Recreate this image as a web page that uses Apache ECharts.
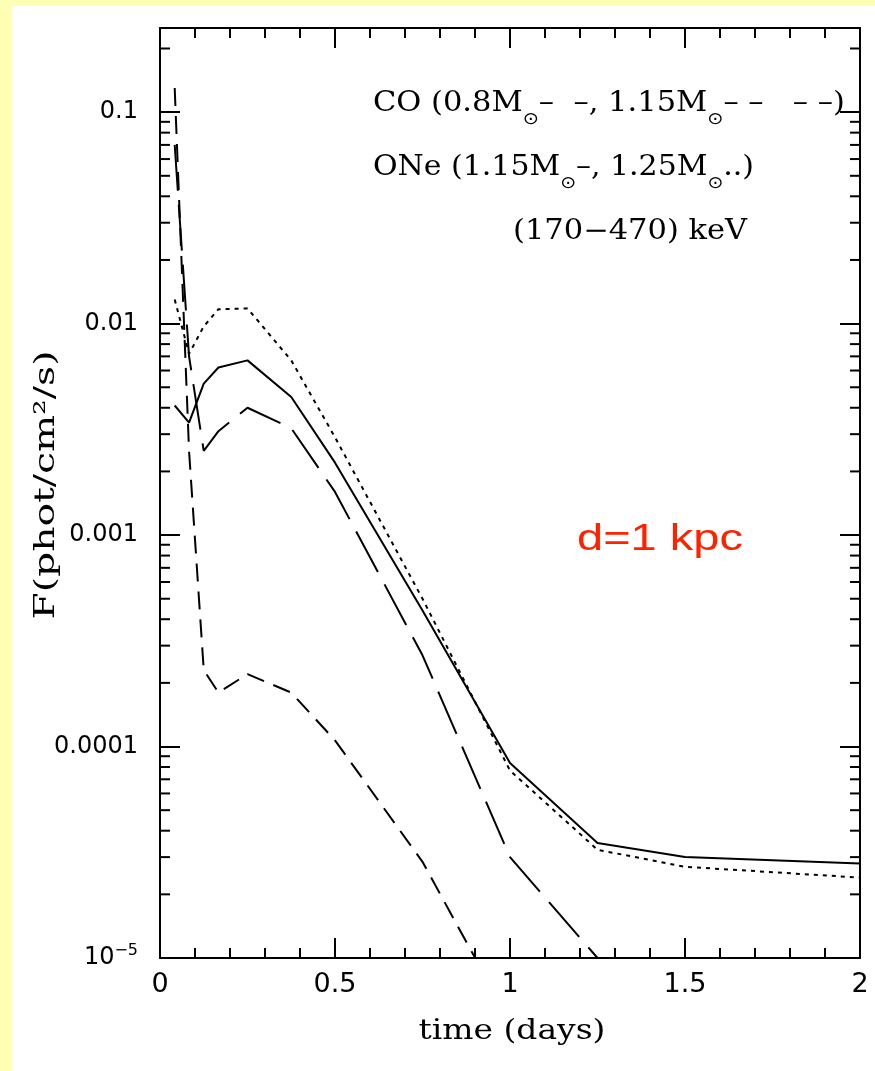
<!DOCTYPE html>
<html><head><meta charset="utf-8">
<script src="https://cdn.jsdelivr.net/npm/echarts@6.0.0/dist/echarts.min.js"></script>
<style>html,body{margin:0;padding:0;background:#ffffb3}#c{width:875px;height:1071px}</style>
</head><body><div id="c"></div>
<script>
// ---- data ----
const times = [0.042, 0.083, 0.125, 0.167, 0.25, 0.375, 0.5, 0.75, 1.0, 1.25, 1.5, 2.0];
const oneSolid115  = [0.0041, 0.0034, 0.0052, 0.0062, 0.0067, 0.0045, 0.0022, 0.00044, 0.0000835, 0.000035, 0.000030, 0.000028];
const oneDotted125 = [0.013, 0.0072, 0.0097, 0.0117, 0.0118, 0.0067, 0.0029, 0.00050, 0.000077, 0.0000325, 0.000027, 0.000024];
const coLong115    = [0.07, 0.007, 0.0025, 0.0031, 0.0040, 0.0032, 0.0016, 0.00027, 0.000030, 0.000010, null, null];
const coShort08    = [0.13, 0.0025, 0.00023, 0.00018, 0.00022, 0.00018, 0.000107, 0.0000285, 0.000005, null, null, null];

const xTickValues = [0, 0.5, 1, 1.5, 2];
const xTickLabels = ['0', '0.5', '1', '1.5', '2'];
const yTickValues = [1e-5, 1e-4, 1e-3, 1e-2, 1e-1];
const yTickLabels = ['10{sup|\u22125}', '0.0001', '0.001', '0.01', '0.1'];
const yMinorTicks = [2e-5, 3e-5, 4e-5, 5e-5, 6e-5, 7e-5, 8e-5, 9e-5,
                     2e-4, 3e-4, 4e-4, 5e-4, 6e-4, 7e-4, 8e-4, 9e-4,
                     2e-3, 3e-3, 4e-3, 5e-3, 6e-3, 7e-3, 8e-3, 9e-3,
                     2e-2, 3e-2, 4e-2, 5e-2, 6e-2, 7e-2, 8e-2, 9e-2, 2e-1];

const legendLine1 = '{m|CO (0.8M}{s|\u2299}{m|\u2013  \u2013, 1.15M}{s|\u2299}{m|\u2013 \u2013   \u2013 \u2013)}';
const legendLine2 = '{m|ONe (1.15M}{s|\u2299}{m|\u2013, 1.25M}{s|\u2299}{m|..)}';
const legendLine3 = '{m|(170\u2212470) keV}';
const distanceNote = 'd=1 kpc';
const xTitle = 'time (days)';
const yTitle = 'F(phot/cm\u00b2/s)';

function pairs(vals) {
  const out = [];
  times.forEach((t, i) => { if (vals[i] != null) out.push([t, vals[i]]); });
  return out;
}
function near(a, b) { return Math.abs(Math.log10(a) - Math.log10(b)) < 1e-6; }

const chart = echarts.init(document.getElementById('c'), null, {renderer: 'canvas'});
const black = '#000';
const serif = 'DejaVu Serif';
const richM = {fontSize: 27, lineHeight: 48, fontFamily: serif, color: black};
const richS = {fontSize: 17, fontFamily: 'DejaVu Sans', color: black, verticalAlign: 'bottom'};

function axisCommon(extra) {
  return Object.assign({
    axisLine: {show: true, onZero: false, lineStyle: {color: black, width: 2}},
    axisTick: {show: true, inside: true, length: 20, lineStyle: {color: black, width: 2}},
    splitLine: {show: false}
  }, extra);
}

const xLabelFmt = v => { const i = xTickValues.findIndex(t => Math.abs(t - v) < 1e-9); return i >= 0 ? xTickLabels[i] : ''; };
const yLabelFmt = v => { const i = yTickValues.findIndex(t => near(t, v)); return i >= 0 ? yTickLabels[i] : ''; };

const lineBase = (name, vals, type) => ({
  name, type: 'line', data: pairs(vals), showSymbol: false, symbol: 'none', clip: true,
  lineStyle: {color: black, width: 2, type: type}, z: 3, silent: true
});

chart.setOption({
  backgroundColor: '#ffffb3',
  animation: false,
  grid: {left: 160, right: 15, top: 28, bottom: 113, containLabel: false},
  xAxis: [
    axisCommon({type: 'value', min: 0, max: 2, interval: 0.5, position: 'bottom',
      minorTick: {show: true, splitNumber: 5, length: 10, lineStyle: {color: black, width: 2}},
      axisLabel: {formatter: xLabelFmt, fontSize: 27, fontFamily: 'DejaVu Sans', color: black, margin: 13}}),
    axisCommon({type: 'value', min: 0, max: 2, interval: 0.5, position: 'top',
      minorTick: {show: true, splitNumber: 5, length: 10, lineStyle: {color: black, width: 2}},
      axisLabel: {show: false}})
  ],
  yAxis: [
    axisCommon({type: 'log', logBase: 10, min: 1e-5, max: 0.25, position: 'left',
      axisLabel: {formatter: yLabelFmt, fontSize: 24, fontFamily: 'DejaVu Sans', color: black, margin: 22,
        rich: {sup: {fontSize: 16, fontFamily: 'DejaVu Sans', color: black, padding: [0, 0, 14, 0]}}}}),
    axisCommon({type: 'log', logBase: 10, min: 1e-5, max: 0.25, position: 'right',
      axisLabel: {show: false}})
  ],
  series: [
    lineBase('ONe 1.15', oneSolid115, 'solid'),
    lineBase('ONe 1.25', oneDotted125, [4, 5]),
    lineBase('CO 1.15', coLong115, [46, 14]),
    lineBase('CO 0.8', coShort08, [18, 10]),
    {
      type: 'custom', silent: true, clip: false, z: 4,
      data: yMinorTicks.map(v => [0, v]),
      renderItem: (params, api) => {
        const p = api.coord([0, api.value(1)]);
        const cs = params.coordSys;
        const st = {stroke: black, lineWidth: 2};
        return {type: 'group', children: [
          {type: 'line', shape: {x1: cs.x, y1: p[1], x2: cs.x + 10, y2: p[1]}, style: st},
          {type: 'line', shape: {x1: cs.x + cs.width - 10, y1: p[1], x2: cs.x + cs.width, y2: p[1]}, style: st}
        ]};
      }
    }
  ],
  graphic: [
    {type: 'rect', z: -10, silent: true, shape: {x: 12, y: 6, width: 863, height: 1065}, style: {fill: '#ffffff'}},
    {type: 'text', x: 373, y: 80, scaleX: 1.13, silent: true, z: 10,
      style: {text: legendLine1, rich: {m: richM, s: richS}, verticalAlign: 'top', align: 'left'}},
    {type: 'text', x: 373, y: 144, scaleX: 1.11, silent: true, z: 10,
      style: {text: legendLine2, rich: {m: richM, s: richS}, verticalAlign: 'top', align: 'left'}},
    {type: 'text', x: 513, y: 208, scaleX: 1.13, silent: true, z: 10,
      style: {text: legendLine3, rich: {m: richM, s: richS}, verticalAlign: 'top', align: 'left'}},
    {type: 'text', x: 577, y: 540, scaleX: 1.27, silent: true, z: 10,
      style: {text: distanceNote, font: '37px "Liberation Sans"', fill: '#ff2200', verticalAlign: 'middle', align: 'left'}},
    {type: 'text', x: 512, y: 1032, scaleX: 1.22, silent: true, z: 10,
      style: {text: xTitle, font: '27px "DejaVu Serif"', fill: black, verticalAlign: 'middle', align: 'center'}},
    {type: 'text', x: 47, y: 485, rotation: Math.PI / 2, scaleX: 1.4, silent: true, z: 10,
      style: {text: yTitle, font: '28px "DejaVu Serif"', fill: black, verticalAlign: 'middle', align: 'center'}}
  ]
});
</script></body></html>
